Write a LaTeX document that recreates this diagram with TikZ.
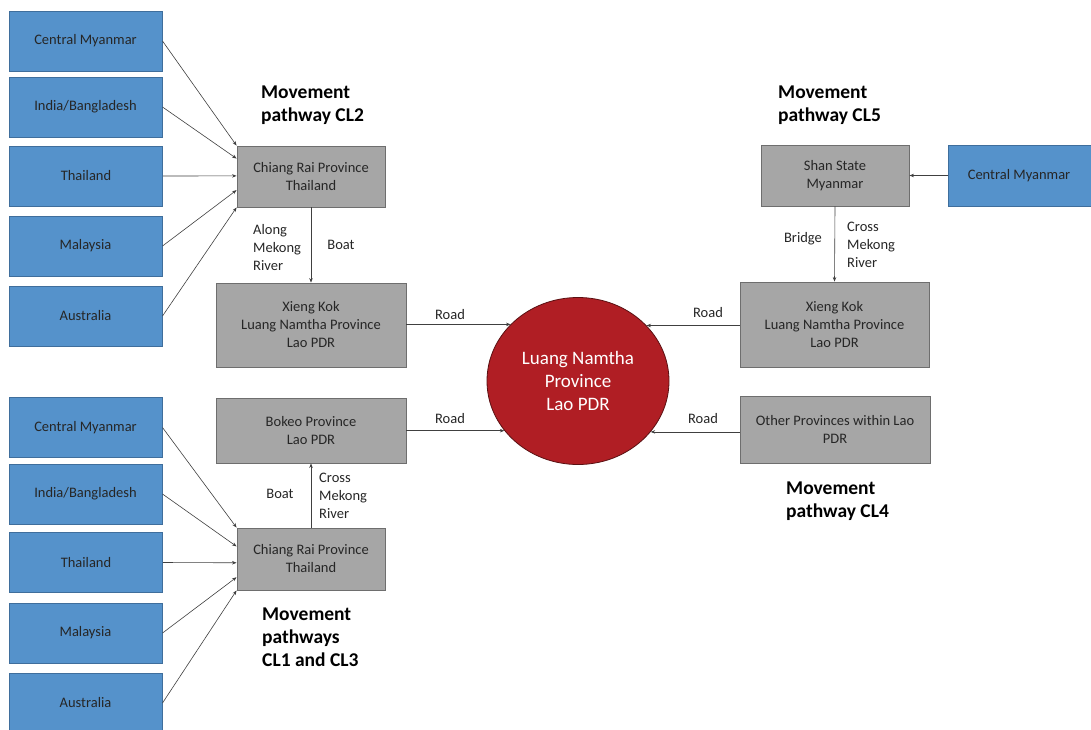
\documentclass[tikz,border=0pt]{standalone}
\usepackage{fontspec}
\setmainfont{Carlito}
\usetikzlibrary{calc,arrows.meta,shapes.geometric}
\definecolor{srcblue}{HTML}{5592CB}
\definecolor{srcblueedge}{HTML}{3F6E9C}
\definecolor{hubgray}{HTML}{A6A6A6}
\definecolor{hubgrayedge}{HTML}{6E6E6E}
\definecolor{destred}{HTML}{B01E24}
\definecolor{destrededge}{HTML}{5A1012}
\definecolor{txt}{HTML}{262626}
\tikzset{
  x=1pt, y=-1pt,
  small/.style={font=\fontsize{14.5}{18}\selectfont, text=txt},
  origin/.style={small, rectangle, draw=srcblueedge, line width=1pt, fill=srcblue,
    minimum width=153pt, minimum height=60pt, inner sep=0pt, align=center},
  hub/.style={small, rectangle, draw=hubgrayedge, line width=0.9pt, fill=hubgray,
    inner sep=0pt, align=center},
  lbl/.style={small, inner sep=0pt, align=left},
  heading/.style={font=\bfseries\fontsize{19.5}{23}\selectfont, text=black, inner sep=0pt, align=left},
  arr/.style={draw=black!75, line width=0.6pt, -{Stealth[length=4.5pt,width=3.5pt]}},
}
\begin{document}
\begin{tikzpicture}
\clip (0,0) rectangle (1091,729);
\fill[white] (0,0) rectangle (1091,729);

% destination
\node[ellipse, draw=destrededge, line width=0.8pt, fill=destred, minimum width=182pt, minimum height=167pt,
  inner sep=0pt, text=white, align=center, font=\fontsize{19}{23}\selectfont]
  (ln) at (578,381) {Luang Namtha\\Province\\Lao PDR};

% pathway CL2
\node[origin] (a1) at (85.5,41)  {Central Myanmar};
\node[origin] (a2) at (85.5,107) {India/Bangladesh};
\node[origin] (a3) at (86,176)   {Thailand};
\node[origin] (a4) at (85.5,246) {Malaysia};
\node[origin] (a5) at (85.5,316) {Australia};
\node[hub, minimum width=148pt, minimum height=61pt] (crA) at (311,176.5) {Chiang Rai Province\\Thailand};
\node[hub, minimum width=190pt, minimum height=84pt] (xkA) at (311,325) {Xieng Kok\\Luang Namtha Province\\Lao PDR};
\node[heading, anchor=west] (hA) at (261,105) {Movement\\pathway CL2};

\draw[arr] (a1.east) -- ($(crA.north west)!0.00!(crA.south west)$);
\draw[arr] (a2.east) -- ($(crA.north west)!0.21!(crA.south west)$);
\draw[arr] (a3.east) -- ($(crA.north west)!0.49!(crA.south west)$);
\draw[arr] (a4.east) -- ($(crA.north west)!0.72!(crA.south west)$);
\draw[arr] (a5.east) -- ($(crA.north west)!1.00!(crA.south west)$);
\draw[arr] (crA.south) -- (xkA.north);
\node[lbl, anchor=west] (lA1) at (253,248) {Along\\Mekong\\River};
\node[lbl] (lA2) at (341,245) {Boat};
\draw[arr] (ln.140.3 -| xkA.east) -- (ln.140.3);
\node[lbl] (rA) at (450,315) {Road};

% pathways CL1 and CL3
\node[origin] (b1) at (85.5,427.5) {Central Myanmar};
\node[origin] (b2) at (85.5,494)   {India/Bangladesh};
\node[origin] (b3) at (86,562.5)   {Thailand};
\node[origin] (b4) at (85.5,633)   {Malaysia};
\node[origin] (b5) at (85.5,703)   {Australia};
\node[hub, minimum width=148pt, minimum height=62pt] (crB) at (311,559) {Chiang Rai Province\\Thailand};
\node[hub, minimum width=190pt, minimum height=65pt] (bk) at (311,430.5) {Bokeo Province\\Lao PDR};
\node[heading, anchor=west] (hB) at (262,637) {Movement\\pathways\\CL1 and CL3};

\draw[arr] (b1.east) -- ($(crB.north west)!0.00!(crB.south west)$);
\draw[arr] (b2.east) -- ($(crB.north west)!0.30!(crB.south west)$);
\draw[arr] (b3.east) -- ($(crB.north west)!0.56!(crB.south west)$);
\draw[arr] (b4.east) -- ($(crB.north west)!0.79!(crB.south west)$);
\draw[arr] (b5.east) -- ($(crB.north west)!1.00!(crB.south west)$);
\draw[arr] (crB.north) -- (bk.south);
\node[lbl] (lB1) at (280,494) {Boat};
\node[lbl, anchor=west] (lB2) at (319,496) {Cross\\Mekong\\River};
\draw[arr] (ln.214.4 -| bk.east) -- (ln.214.4);
\node[lbl] (rB) at (450,419) {Road};

% pathway CL5
\node[hub, minimum width=148pt, minimum height=61pt] (ss) at (835,175.5) {Shan State\\Myanmar};
\node[origin, minimum width=144pt, minimum height=61pt] (c1) at (1020,175.5) {\hspace*{-2pt}Central Myanmar\hspace*{0pt}};
\node[hub, minimum width=189pt, minimum height=85pt] (xkC) at (834.5,324.5) {Xieng Kok\\Luang Namtha Province\\Lao PDR};
\node[heading, anchor=west] (hC) at (778,105) {Movement\\pathway CL5};
\draw[arr] (c1.west) -- (ss.east);
\draw[arr] (ss.south) -- (xkC.north);
\node[lbl] (lC1) at (803,239) {Bridge};
\node[lbl, anchor=west] (lC2) at (847,245) {Cross\\Mekong\\River};
\draw[arr] (ln.39.7 -| xkC.west) -- (ln.39.7);
\node[lbl] (rC) at (708,313) {Road};

% pathway CL4
\node[hub, minimum width=190pt, minimum height=67pt] (op) at (835,429.5) {Other Provinces within Lao\\PDR};
\node[heading, anchor=west] (hD) at (786,501) {Movement\\pathway CL4};
\draw[arr] (ln.325.6 -| op.west) -- (ln.325.6);
\node[lbl] (rD) at (703,419) {Road};
\end{tikzpicture}
\end{document}
